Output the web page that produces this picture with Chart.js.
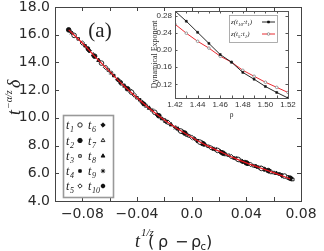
<!DOCTYPE html>
<html>
<head>
<meta charset="utf-8">
<script src="https://cdn.jsdelivr.net/npm/chart.js@4.4.0/dist/chart.umd.min.js"></script>
<style>
body { margin: 0; background: #fff; }
#wrap { position: relative; width: 324px; height: 251px; }
#main_chart { position: absolute; left: 0; top: 0; }
#inset_chart { position: absolute; left: 140px; top: 0; }
</style>
</head>
<body>
<div id="wrap">
<canvas id="main_chart" width="324" height="251"></canvas>
<canvas id="inset_chart" width="165" height="125"></canvas>
</div>
<script>
// main panel: scaled delta vs scaled distance, one set per time t1..t10
var seriesNames = ['1','2','3','4','5','6','7','8','9','10'];
var x_t1 = [-0.086, -0.066, -0.044, -0.027, -0.008, 0.006, 0.019, 0.034, 0.051, 0.068];
var y_t1 = [15.95, 13.95, 11.85, 10.4, 9.05, 8.25, 7.65, 7.0, 6.35, 5.8];
var x_t2 = [-0.090, -0.071, -0.047, -0.024, -0.005, 0.008, 0.023, 0.040, 0.056, 0.072];
var y_t2 = [16.35, 14.45, 12.1, 10.15, 8.9, 8.15, 7.45, 6.75, 6.2, 5.65];
var x_t3 = [-0.083, -0.061, -0.040, -0.020, -0.002, 0.012, 0.027, 0.045, 0.060, 0.074];
var y_t3 = [15.7, 13.45, 11.45, 9.85, 8.7, 7.95, 7.3, 6.55, 6.05, 5.55];
var x_t4 = [-0.078, -0.057, -0.038, -0.022, -0.009, 0.004, 0.016, 0.031, 0.048, 0.064];
var y_t4 = [15.2, 13.05, 11.3, 9.95, 9.1, 8.35, 7.75, 7.1, 6.45, 5.95];
var x_t5 = [-0.080, -0.063, -0.042, -0.017, 0.000, 0.014, 0.029, 0.043, 0.058, 0.070];
var y_t5 = [15.4, 13.65, 11.65, 9.65, 8.6, 7.85, 7.2, 6.65, 6.1, 5.7];
var x_t6 = [-0.075, -0.054, -0.036, -0.025, -0.006, 0.009, 0.021, 0.037, 0.053, 0.066];
var y_t6 = [14.85, 12.75, 11.1, 10.2, 8.95, 8.1, 7.55, 6.85, 6.3, 5.85];
var x_t7 = [-0.072, -0.051, -0.033, -0.019, -0.003, 0.010, 0.025, 0.039, 0.054, 0.071];
var y_t7 = [14.55, 12.45, 10.85, 9.75, 8.75, 8.05, 7.35, 6.8, 6.25, 5.7];
var x_t8 = [-0.068, -0.049, -0.031, -0.015, -0.010, 0.005, 0.018, 0.033, 0.047, 0.062];
var y_t8 = [14.15, 12.3, 10.7, 9.5, 9.2, 8.3, 7.7, 7.05, 6.5, 6.0];
var x_t9 = [-0.088, -0.059, -0.045, -0.029, -0.012, 0.002, 0.015, 0.036, 0.050, 0.067];
var y_t9 = [16.15, 13.25, 11.95, 10.55, 9.3, 8.5, 7.8, 6.9, 6.4, 5.8];
var x_t10 = [-0.076, -0.052, -0.035, -0.018, -0.007, 0.007, 0.022, 0.041, 0.057, 0.073];
var y_t10 = [15.0, 12.55, 11.0, 9.7, 9.0, 8.2, 7.5, 6.7, 6.15, 5.6];

// red scaling curve
var fit_x = [-0.090, -0.080, -0.070, -0.060, -0.050, -0.040, -0.030, -0.020, -0.010, 0.000, 0.010, 0.020, 0.030, 0.040, 0.050, 0.060, 0.072];
var fit_y = [16.35, 15.4, 14.35, 13.35, 12.35, 11.45, 10.6, 9.85, 9.2, 8.6, 8.05, 7.6, 7.15, 6.75, 6.4, 6.05, 5.6];

var mainXTicks = [-0.10, -0.08, -0.06, -0.04, -0.02, 0.00, 0.02, 0.04, 0.06, 0.08];
var mainXLabels = ['', '\u22120.08', '', '\u22120.04', '', '0.0', '', '0.04', '', '0.08'];
var mainYTicks = [4, 6, 8, 10, 12, 14, 16, 18];
var mainYLabels = ['4.0', '6.0', '8.0', '10.0', '12.0', '14.0', '16.0', '18.0'];

// inset: dynamical exponent vs rho
var rho = [1.42, 1.43, 1.44, 1.45, 1.46, 1.47, 1.48, 1.49, 1.50, 1.51, 1.52];
var z_t10_t1 = [0.292, 0.268, 0.242, 0.216, 0.190, 0.172, 0.148, 0.132, 0.115, 0.101, 0.088];
var z_t5_t1 = [0.261, 0.240, 0.221, 0.205, 0.186, 0.172, 0.153, 0.139, 0.125, 0.113, 0.101];
var insetXTicks = [1.42, 1.43, 1.44, 1.45, 1.46, 1.47, 1.48, 1.49, 1.50, 1.51, 1.52];
var insetXLabels = ['1.42', '', '1.44', '', '1.46', '', '1.48', '', '1.50', '', '1.52'];
var insetYTicks = [0.12, 0.16, 0.20, 0.24, 0.28];
var insetYLabels = ['0.12', '0.16', '0.20', '0.24', '0.28'];

var markStyle = ['circle', 'circle', 'rect', 'rect', 'rectRot', 'rectRot', 'triangle', 'triangle', 'star', 'star'];
var markFilled = [false, true, false, true, false, true, false, true, false, true];

function pts(xs, ys) {
  return xs.map(function(v, i) { return {x: v, y: ys[i]}; });
}

var allX = [x_t1, x_t2, x_t3, x_t4, x_t5, x_t6, x_t7, x_t8, x_t9, x_t10];
var allY = [y_t1, y_t2, y_t3, y_t4, y_t5, y_t6, y_t7, y_t8, y_t9, y_t10];

var datasets = [{
  type: 'line',
  label: 'fit',
  data: pts(fit_x, fit_y),
  borderColor: '#e8141c',
  borderWidth: 1.2,
  pointRadius: 0,
  showLine: true,
  cubicInterpolationMode: 'monotone'
}];
seriesNames.forEach(function(n, i) {
  datasets.push({
    label: 't' + n,
    data: pts(allX[i], allY[i]),
    pointStyle: markStyle[i],
    pointRadius: markStyle[i] == 'rect' ? 1.8 : 2.3,
    borderWidth: markStyle[i] == 'star' ? (markFilled[i] ? 1.6 : 0.9) : 0.9,
    borderColor: '#111',
    backgroundColor: markFilled[i] ? '#111' : '#fff',
    showLine: false
  });
});

// frame box with inward ticks on all four sides
var framePlugin = {
  id: 'frame',
  afterDraw: function(chart, args, o) {
    var a = chart.chartArea, c = chart.ctx;
    var sx = chart.scales.x, sy = chart.scales.y;
    c.save();
    c.strokeStyle = o.color;
    c.lineWidth = 1;
    c.strokeRect(Math.round(a.left) + 0.5, Math.round(a.top) + 0.5, Math.round(a.right - a.left), Math.round(a.bottom - a.top));
    c.beginPath();
    sx.ticks.forEach(function(t) {
      var p = Math.round(sx.getPixelForValue(t.value)) + 0.5;
      c.moveTo(p, a.bottom); c.lineTo(p, a.bottom - o.len);
      c.moveTo(p, a.top); c.lineTo(p, a.top + o.len);
    });
    sy.ticks.forEach(function(t) {
      var p = Math.round(sy.getPixelForValue(t.value)) + 0.5;
      c.moveTo(a.left, p); c.lineTo(a.left + o.len, p);
      c.moveTo(a.right, p); c.lineTo(a.right - o.len, p);
    });
    c.stroke();
    c.restore();
  }
};

function drawMark(c, style, filled, r, bw, x, y) {
  c.fillStyle = filled ? '#111' : '#fff';
  c.strokeStyle = '#111';
  c.lineWidth = bw;
  Chart.helpers.drawPoint(c, {pointStyle: style, radius: r, rotation: 0, borderWidth: bw}, x, y);
}

// axis titles, panel letter and the marker key
var decorPlugin = {
  id: 'decor',
  afterDraw: function(chart) {
    var c = chart.ctx;
    c.save();
    c.fillStyle = '#222';
    c.textBaseline = 'alphabetic';
    // x title: t^(1/z) ( rho - rho_c )
    var y = 247;
    c.font = 'italic 18px "Liberation Serif"';
    c.fillText('t', 135, y);
    c.font = 'italic 11px "Liberation Serif"';
    c.fillText('1/z', 141, y - 11);
    c.font = '16px "DejaVu Sans"';
    c.fillText('(', 148, y);
    c.fillText('\u03c1', 158, y);
    c.fillText('\u2212', 175, y);
    c.fillText('\u03c1', 191, y);
    c.fillText(')', 206, y);
    c.font = '10px "DejaVu Sans"';
    c.fillText('c', 200.5, y + 3);
    // y title
    c.save();
    c.translate(20, 115);
    c.rotate(-Math.PI / 2);
    c.font = 'italic 18px "Liberation Serif"';
    c.fillText('t', 0, 0);
    c.font = 'italic 10px "Liberation Serif"';
    c.fillText('\u2212\u03b1/z', 6, -8);
    c.font = 'italic 18px "Liberation Serif"';
    c.fillText('\u03b4', 27, 0);
    c.restore();
    // (a)
    c.font = '21px "Liberation Serif"';
    c.textAlign = 'center';
    c.fillText('(a)', 100, 37);
    // key box
    c.textAlign = 'left';
    c.fillStyle = '#fff';
    c.fillRect(63, 115, 50, 82);
    c.strokeStyle = '#999';
    c.lineWidth = 1.6;
    c.strokeRect(63.5, 115.5, 50, 82);
    var rows = [125, 140.5, 156, 171, 186];
    seriesNames.forEach(function(n, i) {
      var col = i < 5 ? 0 : 1, r = i % 5;
      var tx = col ? 88 : 66, ty = rows[r] + 4;
      c.fillStyle = '#222';
      c.font = 'italic 12px "Liberation Serif"';
      c.fillText('t', tx, ty);
      c.font = 'italic 8px "Liberation Serif"';
      c.fillText(n, tx + 4, ty + 3);
      var st = markStyle[i];
      drawMark(c, st, markFilled[i], st == 'rect' ? 1.8 : 2.2, st == 'star' ? (markFilled[i] ? 1.6 : 0.9) : 0.9, col ? 103 : 80, rows[r]);
    });
    c.restore();
  }
};

var tickFont = {family: 'DejaVu Sans', size: 14};
var noGrid = {display: false, drawTicks: false};

var my_chart = new Chart(document.getElementById('main_chart'), {
  type: 'scatter',
  data: {datasets: datasets},
  options: {
    responsive: false,
    animation: false,
    devicePixelRatio: 1,
    layout: {padding: {top: 7, right: 23, left: 0, bottom: 0}},
    plugins: {
      legend: {display: false},
      tooltip: {enabled: false},
      frame: {color: '#444', len: 4}
    },
    scales: {
      x: {
        type: 'linear', min: -0.10, max: 0.08,
        grid: noGrid, border: {display: false},
        afterBuildTicks: function(s) { s.ticks = mainXTicks.map(function(v) { return {value: v}; }); },
        afterFit: function(s) { s.height = 50; s.paddingLeft = 0; s.paddingRight = 0; },
        ticks: {
          autoSkip: false, maxRotation: 0, padding: 5, color: '#2a2a2a', font: tickFont,
          callback: function(v, i) { return mainXLabels[i]; }
        }
      },
      y: {
        type: 'linear', min: 4, max: 18,
        grid: noGrid, border: {display: false},
        afterBuildTicks: function(s) { s.ticks = mainYTicks.map(function(v) { return {value: v}; }); },
        afterFit: function(s) { s.width = 55; s.paddingTop = 0; s.paddingBottom = 0; },
        ticks: {
          autoSkip: false, padding: 5, color: '#2a2a2a', font: tickFont,
          callback: function(v, i) { return mainYLabels[i]; }
        }
      }
    }
  },
  plugins: [framePlugin, decorPlugin]
});

// inset key and titles
var insetKeyPlugin = {
  id: 'insetKey',
  afterDraw: function(chart) {
    var c = chart.ctx, a = chart.chartArea;
    c.save();
    c.fillStyle = '#333';
    c.font = '8px "Liberation Serif"';
    c.textAlign = 'center';
    c.textBaseline = 'middle';
    c.fillText('\u03c1', (a.left + a.right) / 2, 115);
    c.save();
    c.translate(15, (a.top + a.bottom) / 2);
    c.rotate(-Math.PI / 2);
    c.fillText('Dynamical Exponent', 0, 0);
    c.restore();
    c.textAlign = 'left';
    c.textBaseline = 'alphabetic';
    c.fillStyle = '#fff';
    c.fillRect(89, 15, 48, 27);
    c.strokeStyle = '#999';
    c.lineWidth = 0.8;
    c.strokeRect(89.5, 15.5, 48, 27);
    var labels = [['z(t', '10', ':t', '1', ')'], ['z(t', '5', ':t', '1', ')']];
    var cols = ['#111', '#e8141c'];
    [22, 34].forEach(function(y, k) {
      var x = 91;
      labels[k].forEach(function(s, j) {
        c.font = j % 2 ? 'italic 5px "Liberation Serif"' : 'italic 7px "Liberation Serif"';
        c.fillStyle = '#222';
        c.fillText(s, x, j % 2 ? y + 4 : y + 2);
        x += c.measureText(s).width;
      });
      c.strokeStyle = cols[k];
      c.lineWidth = 0.9;
      c.beginPath(); c.moveTo(122, y); c.lineTo(135, y); c.stroke();
      if (k == 0) drawMark(c, 'rect', true, 1.4, 0.6, 128.5, y);
      else { c.fillStyle = '#fff'; c.strokeStyle = '#777'; c.lineWidth = 0.7; c.beginPath(); c.arc(128.5, y, 1.3, 0, 7); c.fill(); c.stroke(); }
    });
    c.restore();
  }
};

var inset_chart = new Chart(document.getElementById('inset_chart'), {
  type: 'scatter',
  data: {
    datasets: [{
      label: 'z(t10:t1)',
      data: pts(rho, z_t10_t1),
      showLine: true,
      borderColor: '#111', borderWidth: 0.9,
      pointStyle: 'rect', pointRadius: 1.4,
      pointBackgroundColor: '#111', pointBorderColor: '#111', pointBorderWidth: 0.5
    }, {
      label: 'z(t5:t1)',
      data: pts(rho, z_t5_t1),
      showLine: true,
      borderColor: '#e8141c', borderWidth: 0.9,
      pointStyle: 'circle', pointRadius: 1.3,
      pointBackgroundColor: '#fff', pointBorderColor: '#777', pointBorderWidth: 0.7
    }]
  },
  options: {
    responsive: false,
    animation: false,
    devicePixelRatio: 1,
    layout: {padding: {top: 11, right: 17, left: 0, bottom: 0}},
    plugins: {
      legend: {display: false},
      tooltip: {enabled: false},
      frame: {color: '#555', len: 2.5}
    },
    scales: {
      x: {
        type: 'linear', min: 1.42, max: 1.52,
        grid: noGrid, border: {display: false},
        afterBuildTicks: function(s) { s.ticks = insetXTicks.map(function(v) { return {value: v}; }); },
        afterFit: function(s) { s.height = 27; s.paddingLeft = 0; s.paddingRight = 0; },
        ticks: {
          autoSkip: false, maxRotation: 0, padding: 2, color: '#333',
          font: {family: 'Liberation Sans', size: 8},
          callback: function(v, i) { return insetXLabels[i]; }
        }
      },
      y: {
        type: 'linear', min: 0.088, max: 0.292,
        grid: noGrid, border: {display: false},
        afterBuildTicks: function(s) { s.ticks = insetYTicks.map(function(v) { return {value: v}; }); },
        afterFit: function(s) { s.width = 35; s.paddingTop = 0; s.paddingBottom = 0; },
        ticks: {
          autoSkip: false, padding: 3, color: '#333',
          font: {family: 'Liberation Sans', size: 8},
          callback: function(v, i) { return insetYLabels[i]; }
        }
      }
    }
  },
  plugins: [framePlugin, insetKeyPlugin]
});
</script>
</body>
</html>
